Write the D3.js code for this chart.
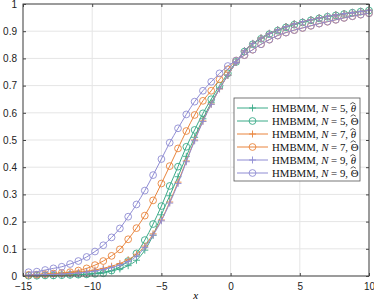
<!DOCTYPE html>
<html>
<head>
<meta charset="utf-8">
<script src="https://cdn.jsdelivr.net/npm/d3@7"></script>
<style>
  body { margin: 0; background: #fff; }
  svg { display: block; }
  .tick text { font-family: "Liberation Sans", Arial, sans-serif; font-size: 10px; fill: #222; }
</style>
</head>
<body>
<script>
// data

const xs = [-14.6, -14.0, -13.4, -12.8, -12.2, -11.6, -11.0, -10.4, -9.8, -9.2,
  -8.6, -8.0, -7.4, -6.8, -6.2, -5.6, -5.0, -4.4, -3.8, -3.2,
  -2.6, -2.0, -1.4, -0.8, -0.2, 0.4, 1.0, 1.6, 2.2, 2.8,
  3.4, 4.0, 4.6, 5.2, 5.8, 6.4, 7.0, 7.6, 8.2, 8.8, 9.4, 10.0]

const n5Theta = [0.001, 0.001, 0.002, 0.002, 0.003, 0.004, 0.005, 0.007, 0.010, 0.014,
  0.019, 0.026, 0.038, 0.058, 0.095, 0.150, 0.225, 0.295, 0.365, 0.440,
  0.510, 0.578, 0.637, 0.690, 0.738, 0.785, 0.828, 0.855, 0.875, 0.892,
  0.905, 0.917, 0.927, 0.935, 0.942, 0.949, 0.955, 0.960, 0.965, 0.969, 0.973, 0.977]

const n5BigTheta = [0.001, 0.001, 0.002, 0.002, 0.003, 0.004, 0.005, 0.006, 0.008, 0.010,
  0.020, 0.034, 0.055, 0.083, 0.132, 0.191, 0.257, 0.331, 0.402, 0.475,
  0.537, 0.598, 0.650, 0.700, 0.745, 0.787, 0.825, 0.852, 0.872, 0.889,
  0.902, 0.914, 0.924, 0.932, 0.940, 0.947, 0.953, 0.958, 0.963, 0.968, 0.972, 0.976]

const n7Theta = [0.004, 0.005, 0.006, 0.007, 0.009, 0.011, 0.014, 0.017, 0.022, 0.028,
  0.036, 0.046, 0.060, 0.080, 0.110, 0.155, 0.206, 0.272, 0.345, 0.423,
  0.500, 0.570, 0.632, 0.688, 0.738, 0.785, 0.828, 0.855, 0.875, 0.892,
  0.905, 0.917, 0.927, 0.935, 0.942, 0.949, 0.955, 0.960, 0.965, 0.969, 0.973, 0.977]

const n7BigTheta = [0.004, 0.005, 0.007, 0.009, 0.011, 0.014, 0.020, 0.028, 0.040, 0.055,
  0.074, 0.098, 0.135, 0.176, 0.222, 0.278, 0.340, 0.404, 0.469, 0.533,
  0.592, 0.644, 0.681, 0.723, 0.760, 0.792, 0.812, 0.832, 0.852, 0.869,
  0.884, 0.895, 0.904, 0.912, 0.920, 0.928, 0.935, 0.942, 0.949, 0.955, 0.961, 0.966]

const n9Theta = [0.003, 0.004, 0.005, 0.006, 0.007, 0.009, 0.011, 0.014, 0.018, 0.024,
  0.031, 0.040, 0.053, 0.073, 0.105, 0.150, 0.203, 0.268, 0.340, 0.420,
  0.497, 0.568, 0.631, 0.688, 0.738, 0.785, 0.828, 0.855, 0.875, 0.892,
  0.905, 0.917, 0.927, 0.935, 0.942, 0.949, 0.955, 0.960, 0.965, 0.969, 0.973, 0.977]

const n9BigTheta = [0.014, 0.016, 0.022, 0.028, 0.034, 0.044, 0.055, 0.070, 0.090, 0.113,
  0.142, 0.175, 0.218, 0.263, 0.314, 0.371, 0.430, 0.490, 0.543, 0.594,
  0.641, 0.681, 0.714, 0.745, 0.772, 0.792, 0.812, 0.832, 0.852, 0.869,
  0.884, 0.895, 0.904, 0.912, 0.920, 0.928, 0.935, 0.942, 0.949, 0.955, 0.961, 0.966]

const xTicks = [-15, -10, -5, 0, 5, 10]
const yTicks = [0, 0.1, 0.2, 0.3, 0.4, 0.5, 0.6, 0.7, 0.8, 0.9, 1]

const green = "#3aaa88", orange = "#e9843c", purple = "#8f8cd3"

const series = [
  { n: 5, hat: "θ", marker: "plus", color: green, ys: n5Theta },
  { n: 5, hat: "Θ", marker: "circle", color: green, ys: n5BigTheta },
  { n: 7, hat: "θ", marker: "plus", color: orange, ys: n7Theta },
  { n: 7, hat: "Θ", marker: "circle", color: orange, ys: n7BigTheta },
  { n: 9, hat: "θ", marker: "plus", color: purple, ys: n9Theta },
  { n: 9, hat: "Θ", marker: "circle", color: purple, ys: n9BigTheta },
]

// layout

const W = 374, H = 304
const margin = { top: 4, right: 5, bottom: 28, left: 23 }
const width = W - margin.left - margin.right
const height = H - margin.top - margin.bottom

const x = d3.scaleLinear().domain([-15, 10]).range([0, width])
const y = d3.scaleLinear().domain([0, 1]).range([height, 0])

const svg = d3.select("body").append("svg")
  .attr("width", W)
  .attr("height", H)

const g = svg.append("g")
  .attr("transform", `translate(${margin.left},${margin.top})`)

// grid
g.append("g").selectAll("line.gx")
  .data(xTicks)
  .enter().append("line")
    .attr("x1", d => x(d)).attr("x2", d => x(d))
    .attr("y1", 0).attr("y2", height)
    .attr("stroke", "#e5e5e5")
g.append("g").selectAll("line.gy")
  .data(yTicks)
  .enter().append("line")
    .attr("x1", 0).attr("x2", width)
    .attr("y1", d => y(d)).attr("y2", d => y(d))
    .attr("stroke", "#e5e5e5")

// axes with inward ticks
const xAxis = d3.axisBottom(x).tickValues(xTicks).tickSizeInner(-3).tickSizeOuter(0).tickPadding(7)
const yAxis = d3.axisLeft(y).tickValues(yTicks).tickSizeInner(-3).tickSizeOuter(0).tickPadding(6)
  .tickFormat(d3.format("~g"))

g.append("g")
  .attr("transform", `translate(0,${height})`)
  .call(xAxis)
  .call(a => a.select(".domain").remove())
g.append("g")
  .call(yAxis)
  .call(a => a.select(".domain").remove())
g.append("g")
  .call(d3.axisTop(x).tickValues(xTicks).tickSizeInner(-3).tickSizeOuter(0).tickFormat(""))
  .call(a => a.select(".domain").remove())
g.append("g")
  .attr("transform", `translate(${width},0)`)
  .call(d3.axisRight(y).tickValues(yTicks).tickSizeInner(-3).tickSizeOuter(0).tickFormat(""))
  .call(a => a.select(".domain").remove())
g.selectAll(".tick line").attr("stroke", "#444")

// curves
const line = d3.line()
  .x((d, i) => x(xs[i]))
  .y(d => y(d))
  .curve(d3.curveMonotoneX)

const drawMarker = (sel, s, cx, cy) => {
  if (s.marker === "circle") {
    sel.append("circle")
      .attr("cx", cx).attr("cy", cy).attr("r", 3.4)
      .attr("fill", "none").attr("stroke", s.color).attr("stroke-width", 0.9)
  } else {
    sel.append("path")
      .attr("d", `M${cx - 3.5},${cy}H${cx + 3.5}M${cx},${cy - 3.5}V${cy + 3.5}`)
      .attr("stroke", s.color).attr("stroke-width", 0.9)
  }
}

const plot = g.append("g")
series.forEach(s => {
  const sg = plot.append("g")
  sg.append("path")
    .attr("d", line(s.ys))
    .attr("fill", "none")
    .attr("stroke", s.color)
    .attr("stroke-width", 1)
  s.ys.forEach((v, i) => drawMarker(sg, s, x(xs[i]), y(v)))
})

// frame
g.append("rect")
  .attr("width", width).attr("height", height)
  .attr("fill", "none").attr("stroke", "#444").attr("stroke-width", 1)

// legend
const lg = svg.append("g").attr("transform", "translate(234,98)")
lg.append("rect")
  .attr("width", 126).attr("height", 83)
  .attr("fill", "#fff").attr("stroke", "#555").attr("stroke-width", 0.8)

const serif = "'Liberation Serif', 'DejaVu Serif', serif"

series.forEach((s, i) => {
  const ly = 10 + i * 13
  const row = lg.append("g")
  row.append("line")
    .attr("x1", 3).attr("x2", 34).attr("y1", ly).attr("y2", ly)
    .attr("stroke", s.color).attr("stroke-width", 1)
  drawMarker(row, s, 18.5, ly)
  const t = row.append("text")
    .attr("x", 38).attr("y", ly + 3.5)
    .attr("font-family", serif)
    .attr("font-size", 10.8)
    .attr("fill", "#111")
  t.append("tspan").text("HMBMM, ")
  t.append("tspan").attr("font-style", "italic").text("N")
  t.append("tspan").text(` = ${s.n}, `)
  const before = t.node().getComputedTextLength()
  t.append("tspan").attr("font-style", s.hat === "θ" ? "italic" : "normal").text(s.hat)
  const symW = t.node().getComputedTextLength() - before
  // the hat over the symbol
  const hx = 38 + before + symW / 2 + (s.hat === "θ" ? 0.8 : 0)
  const hy = ly - 5.5 + (s.hat === "θ" ? 0 : -0.8)
  row.append("path")
    .attr("d", `M${hx - 2.6},${hy + 1.6}L${hx},${hy}L${hx + 2.6},${hy + 1.6}`)
    .attr("fill", "none").attr("stroke", "#111").attr("stroke-width", 0.7)
})

// x label
svg.append("text")
  .attr("x", margin.left + x(0) - 35).attr("y", H - 5)
  .attr("text-anchor", "middle")
  .attr("font-family", serif)
  .attr("font-style", "italic")
  .attr("font-size", 11)
  .text("x")
</script>
</body>
</html>
